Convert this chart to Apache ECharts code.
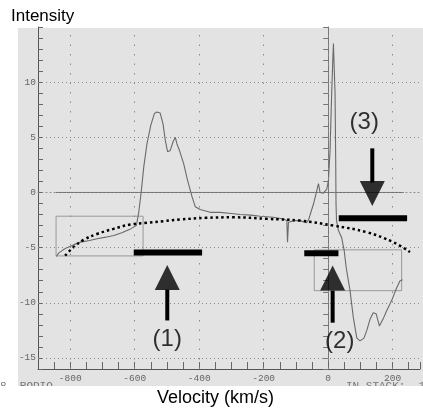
<!DOCTYPE html>
<html>
<head>
<meta charset="utf-8">
<script src="https://cdn.jsdelivr.net/npm/echarts@6/dist/echarts.min.js"></script>
<style>
  html, body { margin: 0; padding: 0; background: #fff; }
  #chart { width: 423px; height: 412px; }
</style>
</head>
<body>
<div id="chart"></div>
<script>
// spectrum trace: [velocity km/s, intensity]
const spectrum = [
  [-843, -5.8], [-836, -5.5], [-822, -5.2], [-810, -5.0], [-790, -4.75], [-768, -4.5],
  [-740, -4.35], [-717, -4.2], [-690, -4.05], [-665, -3.9], [-640, -3.65], [-613, -3.3],
  [-595, -3.0], [-588, -1.9], [-580, 0], [-572, 2.3], [-562, 4.4], [-550, 6.1],
  [-539, 7.15], [-532, 7.3], [-521, 7.2], [-512, 6.2], [-505, 4.7], [-498, 3.7],
  [-490, 3.8], [-481, 4.6], [-474, 5.0], [-469, 4.4], [-461, 3.8], [-448, 2.6],
  [-436, 1.1], [-422, -0.4], [-412, -1.3], [-397, -1.55], [-366, -1.8], [-335, -1.8],
  [-300, -1.9], [-273, -2.0], [-240, -2.05], [-211, -2.15], [-170, -2.25], [-138, -2.4],
  [-128, -2.55], [-126, -4.5], [-123, -2.7], [-105, -2.55], [-87, -2.55], [-68, -2.75],
  [-61, -2.5], [-45, -1.0], [-35, 0.2], [-30, 0.8], [-25, 0], [-15, -0.06], [-4, 0.3],
  [1, 1.1], [6, 3.8], [11, 9], [14.5, 12], [16.5, 13.5], [18, 12], [21.5, 9],
  [23.5, 2.9], [24.5, -1.0], [26, -2.55], [32, -3.45], [42, -4.1], [50, -5.3],
  [56, -6.8], [68, -8.9], [78, -11.3], [89, -13.2], [99, -13.45], [111, -13.2],
  [120, -12.5], [130, -11.5], [140, -10.9], [149, -11.0], [159, -12.1], [170, -11.5],
  [182, -10.7], [197, -9.8], [211, -8.75], [223, -8.0], [231, -7.9]
];

// dotted baseline fit
const fitCurve = [
  [-816, -5.73], [-790, -4.97], [-759, -4.3], [-717, -3.76], [-666, -3.3], [-614, -2.9],
  [-562, -2.75], [-511, -2.6], [-459, -2.45], [-380, -2.3], [-293, -2.25], [-190, -2.39],
  [-87, -2.55], [16, -3.0], [120, -3.6], [202, -4.5], [254, -5.4]
];

// zero line drawn on the scan
const zeroLine = [[-845, 0], [235, 0]];

// thin boxes: [vMin, vMax, iMin, iMax]
const box1 = [-844, -574, -5.75, -2.15];
const box2 = [-43, 228, -8.9, -5.2];

// thick black bars: [vFrom, vTo, level]
const bars = [[-603, -391, -5.45], [-74, 32, -5.5], [33, 245, -2.33]];

// arrows: [v, shaftFrom, shaftTo, headCentre, pointsUp]
const arrows = [
  [-499, -11.6, -8.8, -7.7, true],
  [14, -11.8, -8.9, -7.75, true],
  [137, 4.0, 0.9, -0.1, false]
];
const arrowLabels = [['(1)', -499, -13.3], ['(2)', 36, -13.5], ['(3)', 112, 6.4]];

const xGridValues = [-800, -600, -400, -200, 0, 200];
const yGridValues = [10, 5, 0, -5, -10, -15];

const boxPath = b => [[b[0], b[2]], [b[0], b[3]], [b[1], b[3]], [b[1], b[2]], [b[0], b[2]]];

const chart = echarts.init(document.getElementById('chart'));
const tickFont = { fontFamily: 'Liberation Mono', fontSize: 9.5, color: '#666' };

const series = [
  {
    // dotted grid of the scan
    type: 'line', data: [], silent: true,
    markLine: {
      silent: true, symbol: 'none', label: { show: false }, animation: false,
      data: xGridValues.map(v => ({ xAxis: v, lineStyle: { color: '#8a8a8a', width: 1, type: [1.5, 8] } }))
        .concat(yGridValues.map(v => ({ yAxis: v, lineStyle: { color: '#8a8a8a', width: 1, type: [1, 3] } })))
    }
  },
  { type: 'line', data: zeroLine, symbol: 'none', lineStyle: { color: '#6f6f6f', width: 1 } },
  { type: 'line', data: boxPath(box1), symbol: 'none', lineStyle: { color: '#999', width: 1 } },
  { type: 'line', data: boxPath(box2), symbol: 'none', lineStyle: { color: '#999', width: 1 } },
  { type: 'line', data: spectrum, symbol: 'none', lineStyle: { color: '#6a6a6a', width: 1.1 } },
  { type: 'line', data: fitCurve, symbol: 'none', smooth: 0.4, z: 4,
    lineStyle: { color: '#000', width: 2.5, type: [2.5, 3] } }
];

bars.forEach(b => series.push({
  type: 'line', data: [[b[0], b[2]], [b[1], b[2]]], symbol: 'none', z: 5,
  lineStyle: { color: '#000', width: 6, cap: 'butt' }
}));

arrows.forEach(a => {
  series.push({
    type: 'line', data: [[a[0], a[1]], [a[0], a[2]]], symbol: 'none', z: 5,
    lineStyle: { color: '#000', width: 4, cap: 'butt' }
  });
  series.push({
    type: 'scatter', data: [[a[0], a[3]]], symbol: 'triangle', symbolSize: [25, 25],
    symbolRotate: a[4] ? 0 : 180, z: 5, itemStyle: { color: '#000' }
  });
});

series.push({
  type: 'scatter', symbolSize: 0, z: 6,
  data: arrowLabels.map(l => ({ value: [l[1], l[2]], name: l[0] })),
  label: {
    show: true, position: 'inside', formatter: p => p.name,
    fontFamily: 'Liberation Sans', fontSize: 24, color: '#000'
  }
});

const option = {
  animation: false,
  backgroundColor: '#fff',
  grid: { left: 38, right: 3, top: 27, bottom: 43 },
  xAxis: [
    {
      type: 'value', min: -900, max: 285, interval: 50,
      axisLine: { show: true, onZero: false, lineStyle: { color: '#555', width: 1 } },
      axisTick: { show: true, inside: true, length: 7, lineStyle: { color: '#666' } },
      axisLabel: Object.assign({ margin: 4, showMinLabel: false, formatter: v => (v % 200 === 0 ? String(v) : '') }, tickFont),
      splitLine: { show: false }
    },
    {
      type: 'value', position: 'top', min: -900, max: 285,
      axisLine: { show: true, lineStyle: { color: '#8a8a8a', width: 1, type: [1, 3] } },
      axisTick: { show: false }, axisLabel: { show: false }, splitLine: { show: false }
    }
  ],
  yAxis: [
    {
      type: 'value', min: -16, max: 15, interval: 1,
      axisLine: { show: true, onZero: false, lineStyle: { color: '#555', width: 1 } },
      axisTick: { show: true, inside: true, length: 5, lineStyle: { color: '#666' } },
      axisLabel: Object.assign({ margin: 2, formatter: v => (v % 5 === 0 && v > -16 && v < 15 ? String(v) : '') }, tickFont),
      splitLine: { show: false }
    },
    {
      type: 'value', position: 'right', min: -16, max: 15, interval: 1,
      axisLine: { show: true, lineStyle: { color: '#777', width: 1 } },
      axisTick: { show: true, inside: true, length: 5, lineStyle: { color: '#777' } },
      axisLabel: { show: false }, splitLine: { show: false }
    }
  ],
  graphic: {
    elements: [
      { type: 'rect', z: -1, silent: true, shape: { x: 18, y: 28, width: 405, height: 358 }, style: { fill: '#e3e3e3' } },
      { type: 'text', z: 100, x: 0, y: 381, style: { text: '8  RODIO', font: '11px Liberation Mono', fill: '#777' } },
      { type: 'text', z: 100, x: 346, y: 381, style: { text: 'IN STACK:  10', font: '11px Liberation Mono', fill: '#777' } },
      { type: 'rect', z: 101, silent: true, shape: { x: 0, y: 386, width: 423, height: 26 }, style: { fill: '#fff' } },
      { type: 'text', z: 102, x: 11, y: 8, style: { text: 'Intensity', font: '17px Liberation Sans', fill: '#000' } },
      { type: 'text', z: 102, x: 157, y: 389, style: { text: 'Velocity (km/s)', font: '18px Liberation Sans', fill: '#000' } }
    ]
  },
  series: series
};

chart.setOption(option);
</script>
</body>
</html>
